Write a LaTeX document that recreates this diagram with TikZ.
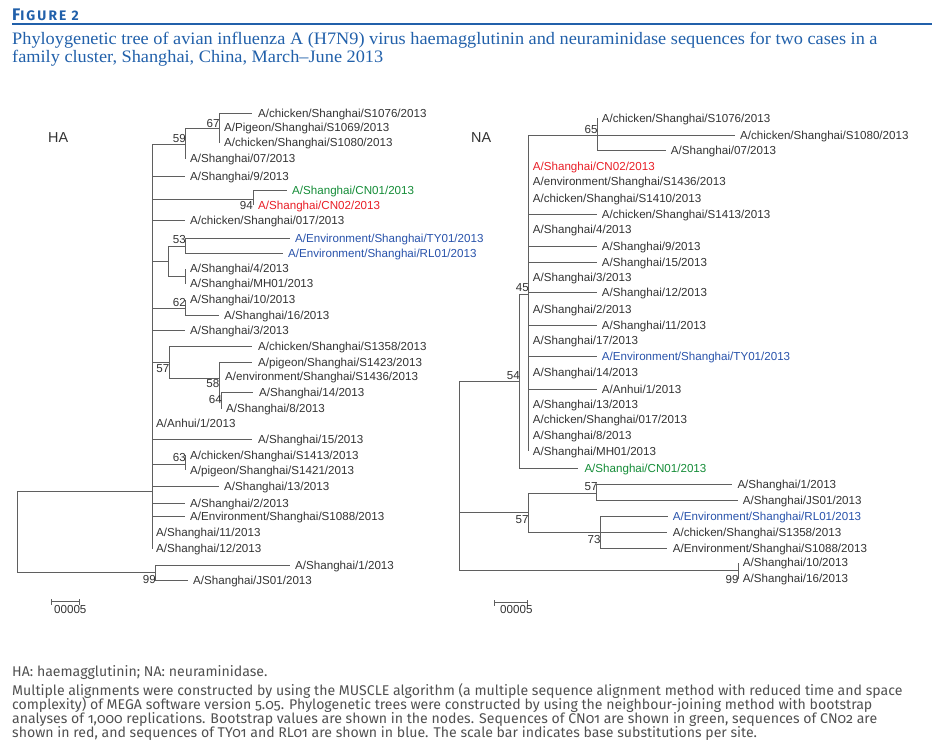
\documentclass[tikz,border=0pt]{standalone}
\usepackage{fontspec}
\newfontfamily\labfont{Liberation Sans}
\newfontfamily\ttlfont[FakeStretch=1.045]{Liberation Serif}
\newfontfamily\capfont[Numbers=OldStyle]{Fira Sans}
\newfontfamily\figfont[LetterSpace=15]{Fira Sans}
\definecolor{hdblue}{RGB}{33,96,170}
\definecolor{labgray}{RGB}{51,51,51}
\definecolor{brgray}{RGB}{95,95,95}
\definecolor{capgray}{RGB}{80,80,80}
\definecolor{cngreen}{RGB}{20,140,55}
\definecolor{cnred}{RGB}{232,30,38}
\definecolor{envblue}{RGB}{40,82,170}
\newcommand\mytip[6][]{\coordinate (#2) at (#3,#4); \node[lab,#1] (#2l) at (#5,#4) {#6};}
\tikzset{
  br/.style={draw=brgray, line width=0.9pt},
  lab/.style={anchor=west, inner sep=0pt, text height=8.3pt, text depth=0pt, text=labgray,
    font=\labfont\fontsize{11.6}{13}\selectfont},
  bs/.style={anchor=base east, inner sep=0pt, text=labgray, font=\labfont\fontsize{11.6}{13}\selectfont},
  grn/.style={text=cngreen}, rd/.style={text=cnred}, blu/.style={text=envblue},
  ttl/.style={anchor=base west, inner sep=0pt, text=hdblue, font=\ttlfont\fontsize{17.5}{19}\selectfont},
  captxt/.style={anchor=base west, inner sep=0pt, text=capgray, font=\capfont\fontsize{14.1}{15}\selectfont},
}
\begin{document}
\begin{tikzpicture}[x=1pt,y=-1pt]
\useasboundingbox (0,0) rectangle (943,748);
% header
\node[anchor=base west, inner sep=0pt, text=hdblue, font=\figfont\bfseries] (fig) at (12,20.7)
  {{\fontsize{16.8}{17}\selectfont F}{\fontsize{13.8}{14}\selectfont IGURE 2}};
\coordinate (rl1) at (12,24.3); \coordinate (rl2) at (932,24.3);
\draw[hdblue, line width=1.8pt] (rl1) -- (rl2);
\node[ttl] (t1) at (12,44) {Phyloygenetic tree of avian influenza A (H7N9) virus haemagglutinin and neuraminidase sequences for two cases in a};
\node[ttl] (t2) at (12,62) {family cluster, Shanghai, China, March–June 2013};
% titles of trees
\node[anchor=west, inner sep=0pt, text=labgray, font=\labfont\fontsize{14.4}{15}\selectfont] (haT) at (48,138) {HA};
\node[anchor=west, inner sep=0pt, text=labgray, font=\labfont\fontsize{14.4}{15}\selectfont] (naT) at (471,138) {NA};

% ================= HA tree =================
\coordinate (hR) at (17,532);
\coordinate (hM) at (152,491.3);
\coordinate (h99) at (155.7,572.3);
\coordinate (h59) at (185.3,144);
\coordinate (h67) at (219.3,128.7);
\coordinate (hCN) at (253.3,199);
\coordinate (hA) at (168.3,261.7);
\coordinate (h53) at (185.3,246);
\coordinate (h4) at (185.3,276.7);
\coordinate (h62) at (185.3,308.7);
\coordinate (h57) at (169.3,362);
\coordinate (h58) at (219.3,378.3);
\coordinate (h64) at (221.7,400);
\coordinate (h63) at (185.3,464);

\mytip{ht1}{252.3}{113.3}{258}{A/chicken/Shanghai/S1076/2013}
\mytip{ht2}{219.3}{127.5}{224}{A/Pigeon/Shanghai/S1069/2013}
\mytip{ht3}{219.3}{142.5}{224}{A/chicken/Shanghai/S1080/2013}
\mytip{ht4}{185.3}{158.5}{190}{A/Shanghai/07/2013}
\mytip{ht5}{185.3}{176}{190}{A/Shanghai/9/2013}
\mytip[grn]{ht6}{286.7}{190.7}{292}{A/Shanghai/CN01/2013}
\mytip[rd]{ht7}{253.3}{205}{258}{A/Shanghai/CN02/2013}
\mytip{ht8}{185.3}{220.7}{190}{A/chicken/Shanghai/017/2013}
\mytip[blu]{ht9}{290}{238.3}{295}{A/Environment/Shanghai/TY01/2013}
\mytip[blu]{ht10}{283}{253.3}{288}{A/Environment/Shanghai/RL01/2013}
\mytip{ht11}{185.3}{268.5}{190}{A/Shanghai/4/2013}
\mytip{ht12}{185.3}{283.5}{190}{A/Shanghai/MH01/2013}
\mytip{ht13}{185.3}{299.5}{190}{A/Shanghai/10/2013}
\mytip{ht14}{219.3}{315}{224}{A/Shanghai/16/2013}
\mytip{ht15}{185.3}{330}{190}{A/Shanghai/3/2013}
\mytip{ht16}{252.3}{346.7}{258}{A/chicken/Shanghai/S1358/2013}
\mytip{ht17}{252.3}{362}{258}{A/pigeon/Shanghai/S1423/2013}
\mytip{ht18}{219.3}{376}{225}{A/environment/Shanghai/S1436/2013}
\mytip{ht19}{253.3}{392.7}{259}{A/Shanghai/14/2013}
\mytip{ht20}{221.7}{408.5}{226}{A/Shanghai/8/2013}
\mytip{ht21}{152}{423}{156}{A/Anhui/1/2013}
\mytip{ht22}{252.3}{439.3}{258}{A/Shanghai/15/2013}
\mytip{ht23}{185.3}{455}{190}{A/chicken/Shanghai/S1413/2013}
\mytip{ht24}{185.3}{470}{190}{A/pigeon/Shanghai/S1421/2013}
\mytip{ht25}{219.3}{486}{224}{A/Shanghai/13/2013}
\mytip{ht26}{185.3}{503.3}{190}{A/Shanghai/2/2013}
\mytip{ht27}{185.3}{516.7}{190}{A/Environment/Shanghai/S1088/2013}
\mytip{ht28}{152}{532.5}{156}{A/Shanghai/11/2013}
\mytip{ht29}{152}{548.5}{156}{A/Shanghai/12/2013}
\mytip{ht30}{290}{565}{295}{A/Shanghai/1/2013}
\mytip{ht31}{188.3}{580}{193}{A/Shanghai/JS01/2013}

\foreach \c in {hM,h99} \draw[br] (hR) |- (\c);
\foreach \c in {h59,ht5,hCN,ht8,hA,h62,ht15,h57,ht21,ht22,h63,ht25,ht26,ht27,ht28,ht29} \draw[br] (hM) |- (\c);
\foreach \c in {h67,ht4} \draw[br] (h59) |- (\c);
\foreach \c in {ht1,ht2,ht3} \draw[br] (h67) |- (\c);
\foreach \c in {ht6,ht7} \draw[br] (hCN) |- (\c);
\foreach \c in {h53,h4} \draw[br] (hA) |- (\c);
\foreach \c in {ht9,ht10} \draw[br] (h53) |- (\c);
\foreach \c in {ht11,ht12} \draw[br] (h4) |- (\c);
\foreach \c in {ht13,ht14} \draw[br] (h62) |- (\c);
\foreach \c in {ht16,h58} \draw[br] (h57) |- (\c);
\foreach \c in {ht17,ht18,h64} \draw[br] (h58) |- (\c);
\foreach \c in {ht19,ht20} \draw[br] (h64) |- (\c);
\foreach \c in {ht23,ht24} \draw[br] (h63) |- (\c);
\foreach \c in {ht30,ht31} \draw[br] (h99) |- (\c);

\node[bs] (hb67) at (219.8,127) {67};
\node[bs] (hb59) at (186,142) {59};
\node[bs] (hb94) at (253,209) {94};
\node[bs] (hb53) at (186,243) {53};
\node[bs] (hb62) at (186,306) {62};
\node[bs] (hb57) at (169.5,372) {57};
\node[bs] (hb58) at (219.5,387) {58};
\node[bs] (hb64) at (222,403) {64};
\node[bs] (hb63) at (186,461) {63};
\node[bs] (hb99) at (156,583) {99};

% scale bar HA
\coordinate (sa1) at (51.7,601.3); \coordinate (sa2) at (79.7,601.3);
\draw[br] (sa1) -- (sa2);
\draw[br] (51.7,599) -- (51.7,605);
\draw[br] (79.7,599) -- (79.7,605);
\node[lab] (sal) at (54,609.5) {00005};

% ================= NA tree =================
\coordinate (nR) at (459,475);
\coordinate (n54) at (519.3,381);
\coordinate (n45) at (528.3,294.3);
\coordinate (n65) at (597.3,135);
\coordinate (nL57) at (528.3,512.7);
\coordinate (nU57) at (596.7,493.3);
\coordinate (n73) at (600,532.3);
\coordinate (n99) at (738.3,570.7);

\mytip{nt1}{597.3}{118}{601.7}{A/chicken/Shanghai/S1076/2013}
\mytip{nt2}{735}{135}{740}{A/chicken/Shanghai/S1080/2013}
\mytip{nt3}{666}{150.7}{670.7}{A/Shanghai/07/2013}
\mytip[rd]{nt4}{528.3}{166}{532.7}{A/Shanghai/CN02/2013}
\mytip{nt5}{528.3}{181.5}{532.7}{A/environment/Shanghai/S1436/2013}
\mytip{nt6}{528.3}{198}{532.7}{A/chicken/Shanghai/S1410/2013}
\mytip{nt7}{596.7}{214.3}{601.7}{A/chicken/Shanghai/S1413/2013}
\mytip{nt8}{528.3}{229.5}{532.7}{A/Shanghai/4/2013}
\mytip{nt9}{596.7}{246}{601.7}{A/Shanghai/9/2013}
\mytip{nt10}{596.7}{262.3}{601.7}{A/Shanghai/15/2013}
\mytip{nt11}{528.3}{277}{532.7}{A/Shanghai/3/2013}
\mytip{nt12}{596.7}{292.7}{601.7}{A/Shanghai/12/2013}
\mytip{nt13}{528.3}{309.5}{532.7}{A/Shanghai/2/2013}
\mytip{nt14}{596.7}{325.7}{601.7}{A/Shanghai/11/2013}
\mytip{nt15}{528.3}{340.5}{532.7}{A/Shanghai/17/2013}
\mytip[blu]{nt16}{596.7}{356}{601.7}{A/Environment/Shanghai/TY01/2013}
\mytip{nt17}{528.3}{372.5}{532.7}{A/Shanghai/14/2013}
\mytip{nt18}{596.7}{389.3}{601.7}{A/Anhui/1/2013}
\mytip{nt19}{528.3}{404.5}{532.7}{A/Shanghai/13/2013}
\mytip{nt20}{528.3}{419.5}{532.7}{A/chicken/Shanghai/017/2013}
\mytip{nt21}{528.3}{435.3}{532.7}{A/Shanghai/8/2013}
\mytip{nt22}{528.3}{451}{532.7}{A/Shanghai/MH01/2013}
\mytip[grn]{nt23}{578.3}{468.3}{584.3}{A/Shanghai/CN01/2013}
\mytip{nt24}{731.7}{484.3}{737.3}{A/Shanghai/1/2013}
\mytip{nt25}{738.3}{500}{742.7}{A/Shanghai/JS01/2013}
\mytip[blu]{nt26}{668.3}{516}{672.7}{A/Environment/Shanghai/RL01/2013}
\mytip{nt27}{666.7}{532.3}{672.7}{A/chicken/Shanghai/S1358/2013}
\mytip{nt28}{666.7}{548.3}{672.7}{A/Environment/Shanghai/S1088/2013}
\mytip{nt29}{738.3}{562.7}{742.7}{A/Shanghai/10/2013}
\mytip{nt30}{738.3}{578.5}{742.7}{A/Shanghai/16/2013}

\foreach \c in {n54,nL57,n99} \draw[br] (nR) |- (\c);
\foreach \c in {n45,nt23} \draw[br] (n54) |- (\c);
\foreach \c in {n65,nt4,nt5,nt6,nt7,nt8,nt9,nt10,nt11,nt12,nt13,nt14,nt15,nt16,nt17,nt18,nt19,nt20,nt21,nt22} \draw[br] (n45) |- (\c);
\foreach \c in {nt1,nt2,nt3} \draw[br] (n65) |- (\c);
\foreach \c in {nU57,n73} \draw[br] (nL57) |- (\c);
\foreach \c in {nt24,nt25} \draw[br] (nU57) |- (\c);
\foreach \c in {nt26,nt27,nt28} \draw[br] (n73) |- (\c);
\foreach \c in {nt29,nt30} \draw[br] (n99) |- (\c);

\node[bs] (nb65) at (597.8,133) {65};
\node[bs] (nb45) at (529,291) {45};
\node[bs] (nb54) at (520,379) {54};
\node[bs] (nbu57) at (597.8,490) {57};
\node[bs] (nbl57) at (528.8,523) {57};
\node[bs] (nb73) at (600.8,543) {73};
\node[bs] (nb99) at (738.8,583) {99};

% scale bar NA
\coordinate (sn1) at (494.3,602.7); \coordinate (sn2) at (527.7,602.7);
\draw[br] (sn1) -- (sn2);
\draw[br] (494.3,600.4) -- (494.3,606.4);
\draw[br] (527.7,600.4) -- (527.7,606.4);
\node[lab] (snl) at (500,609) {00005};

% ================= caption =================
\node[captxt] (c0) at (12,676.5) {HA: haemagglutinin; NA: neuraminidase.};
\node[captxt] (c1) at (12,695.5) {Multiple alignments were constructed by using the MUSCLE algorithm (a multiple sequence alignment method with reduced time and space};
\node[captxt] (c2) at (12,709.5) {complexity) of MEGA software version 5.05. Phylogenetic trees were constructed by using the neighbour-joining method with bootstrap};
\node[captxt] (c3) at (12,723.5) {analyses of 1,000 replications. Bootstrap values are shown in the nodes. Sequences of CN01 are shown in green, sequences of CN02 are};
\node[captxt] (c4) at (12,737.5) {shown in red, and sequences of TY01 and RL01 are shown in blue. The scale bar indicates base substitutions per site.};
\end{tikzpicture}
\end{document}
